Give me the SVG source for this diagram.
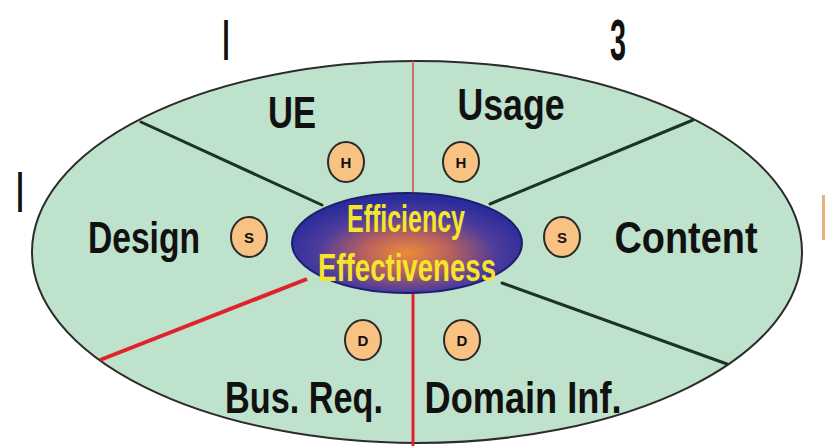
<svg xmlns="http://www.w3.org/2000/svg" width="825" height="446" viewBox="0 0 825 446">
<style>
.lbl{font-family:"Liberation Sans",Arial,sans-serif;font-weight:bold;fill:#111;text-anchor:middle;font-size:44px}
.num{font-family:"Liberation Sans",Arial,sans-serif;font-weight:bold;fill:#111;text-anchor:middle;font-size:58px}
.core{font-family:"Liberation Sans",Arial,sans-serif;font-weight:bold;fill:#F4E62A;text-anchor:middle;font-size:39px}
.dot{fill:#F8C283;stroke:#2a2a2a;stroke-width:2}
.dl{font-family:"Liberation Sans",Arial,sans-serif;font-weight:bold;fill:#111;text-anchor:middle;font-size:15px}
.dark{stroke:#1c3326;stroke-width:3;stroke-linecap:round}
</style>
<defs>
<radialGradient id="cg" cx="0.5" cy="0.6" r="0.55">
<stop offset="0" stop-color="#EC8C38"/>
<stop offset="0.35" stop-color="#B8605E"/>
<stop offset="0.7" stop-color="#4E3C9C"/>
<stop offset="1" stop-color="#2A2C9A"/>
</radialGradient>
</defs>
<rect width="825" height="446" fill="#ffffff"/>
<g id="outer">
<ellipse cx="417" cy="252" rx="385" ry="191" fill="#BEE2CB" stroke="#2c2c2c" stroke-width="2"/>
</g>
<g id="connectors">
<line class="dark" x1="141" y1="122" x2="322" y2="205"/>
<line class="dark" x1="693" y1="120" x2="490" y2="204"/>
<line class="dark" x1="502" y1="283" x2="727" y2="364"/>
<line x1="100" y1="360" x2="307" y2="279" stroke="#E0222C" stroke-width="4"/>
<line x1="413" y1="61" x2="413" y2="194" stroke="#D84848" stroke-width="1.5"/>
<line x1="413" y1="292" x2="413" y2="446" stroke="#E0202A" stroke-width="3"/>
</g>
<g id="center">
<ellipse cx="407" cy="243" rx="115" ry="50" fill="url(#cg)" stroke="#1e1e70" stroke-width="2"/>
<text class="core" x="406" y="232" textLength="118" lengthAdjust="spacingAndGlyphs">Efficiency</text>
<text class="core" x="407" y="281" textLength="178" lengthAdjust="spacingAndGlyphs">Effectiveness</text>
</g>
<g id="ue"><text class="lbl" x="292" y="128" textLength="48" lengthAdjust="spacingAndGlyphs">UE</text></g>
<g id="usage"><text class="lbl" x="511" y="120" textLength="107" lengthAdjust="spacingAndGlyphs">Usage</text></g>
<g id="design"><text class="lbl" x="144" y="253" textLength="112" lengthAdjust="spacingAndGlyphs">Design</text></g>
<g id="content"><text class="lbl" x="686" y="253" textLength="143" lengthAdjust="spacingAndGlyphs">Content</text></g>
<g id="busreq"><text class="lbl" x="304" y="413" textLength="158" lengthAdjust="spacingAndGlyphs">Bus. Req.</text></g>
<g id="domaininf"><text class="lbl" x="523" y="413" textLength="197" lengthAdjust="spacingAndGlyphs">Domain Inf.</text></g>
<g id="h1"><ellipse class="dot" cx="346" cy="162" rx="18" ry="20"/><text class="dl" x="346" y="168">H</text></g>
<g id="h2"><ellipse class="dot" cx="461" cy="162" rx="18" ry="20"/><text class="dl" x="461" y="168">H</text></g>
<g id="s1"><ellipse class="dot" cx="249" cy="237" rx="18" ry="20"/><text class="dl" x="249" y="243">S</text></g>
<g id="s2"><ellipse class="dot" cx="562" cy="237" rx="18" ry="20"/><text class="dl" x="562" y="243">S</text></g>
<g id="d1"><ellipse class="dot" cx="363" cy="340" rx="18" ry="20"/><text class="dl" x="363" y="346">D</text></g>
<g id="d2"><ellipse class="dot" cx="462" cy="340" rx="18" ry="20"/><text class="dl" x="462" y="346">D</text></g>
<g id="marks">
<text class="num" x="226" y="60" textLength="7" lengthAdjust="spacingAndGlyphs">I</text>
<text class="num" x="618" y="60" textLength="16" lengthAdjust="spacingAndGlyphs">3</text>
<text class="num" x="20" y="212" textLength="7" lengthAdjust="spacingAndGlyphs">I</text>
<rect x="822" y="195" width="3" height="45" fill="#E9B27C"/>
</g>
</svg>
